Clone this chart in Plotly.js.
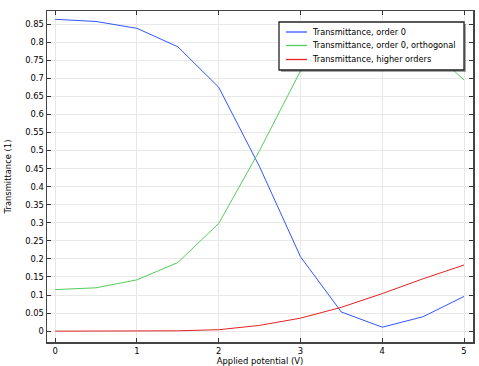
<!DOCTYPE html>
<html>
<head>
<meta charset="utf-8">
<script src="https://cdn.plot.ly/plotly-3.0.1.min.js"></script>
<style>html,body{margin:0;padding:0;background:#fff;}#chart{width:479px;height:366px;}</style>
</head>
<body>
<div id="chart"></div>
<script>
var potential = [0, 0.5, 1, 1.5, 2, 2.5, 3, 3.5, 4, 4.5, 5];
var order0 = [0.863, 0.857, 0.838, 0.787, 0.675, 0.455, 0.206, 0.053, 0.011, 0.040, 0.096];
var order0Orth = [0.115, 0.120, 0.142, 0.190, 0.298, 0.500, 0.720, 0.830, 0.845, 0.800, 0.695];
var higherOrders = [0.000, 0.000, 0.000, 0.001, 0.004, 0.016, 0.036, 0.066, 0.104, 0.145, 0.183];
var names = ["Transmittance, order 0", "Transmittance, order 0, orthogonal", "Transmittance, higher orders"];
var colors = ["rgb(50,85,255)", "rgb(85,205,90)", "rgb(225,35,35)"];
var xTicks = [0, 1, 2, 3, 4, 5];
var yTicks = [];
for (var i = 0; i <= 17; i++) { yTicks.push(+(i * 0.05).toFixed(2)); }

var W = 479, H = 366;
var M = {l: 47, r: 6, t: 11, b: 24};
var pw = W - M.l - M.r, ph = H - M.t - M.b;
function px(x) { return (x - M.l) / pw; }
function py(y) { return (H - M.b - y) / ph; }

var fam = "DejaVu Sans, Verdana, sans-serif";
var font = {family: fam, size: 8.4, color: "#000"};
var traces = [order0, order0Orth, higherOrders].map(function(ys, k) {
  return {x: potential, y: ys, name: names[k], mode: "lines", line: {color: colors[k], width: 1}, showlegend: false};
});

// manual legend (box, shadow, line samples, labels)
var shapes = [
  {type: "rect", xref: "paper", yref: "paper", x0: px(281), x1: px(466), y0: py(24), y1: py(72),
   line: {width: 0}, fillcolor: "rgba(0,0,0,0.35)"},
  {type: "rect", xref: "paper", yref: "paper", x0: px(279), x1: px(464), y0: py(22), y1: py(70),
   line: {color: "#222", width: 1.3}, fillcolor: "#fff"}
];
var annotations = [];
var rowY = [32, 45.5, 59.5];
for (var k = 0; k < names.length; k++) {
  shapes.push({type: "line", xref: "paper", yref: "paper", x0: px(286), x1: px(307), y0: py(rowY[k]), y1: py(rowY[k]),
    line: {color: colors[k], width: 1.3}});
  annotations.push({xref: "paper", yref: "paper", x: px(310), y: py(rowY[k]), xanchor: "left", yanchor: "middle",
    text: names[k], showarrow: false, font: {family: fam, size: 8.2, color: "#000"}});
}

var axisCommon = {
  showline: true, linecolor: "#444", linewidth: 1.5, mirror: "ticks",
  ticks: "inside", ticklen: 4, tickcolor: "#333", tickwidth: 1,
  showgrid: true, gridcolor: "#e8e8e8", gridwidth: 1, zeroline: false,
  tickfont: font
};
var layout = {
  width: W, height: H,
  margin: M,
  paper_bgcolor: "#fff", plot_bgcolor: "#fff",
  font: font,
  showlegend: false,
  shapes: shapes,
  annotations: annotations,
  xaxis: Object.assign({}, axisCommon, {
    range: [-0.1, 5.11], tickvals: xTicks, ticktext: xTicks.map(String),
    title: {text: "Applied potential (V)", font: font, standoff: 0}
  }),
  yaxis: Object.assign({}, axisCommon, {
    range: [-0.03, 0.886], tickvals: yTicks, ticktext: yTicks.map(String),
    title: {text: "Transmittance (1)", font: font, standoff: 12}
  })
};
Plotly.newPlot("chart", traces, layout, {displayModeBar: false, staticPlot: true});
</script>
</body>
</html>
